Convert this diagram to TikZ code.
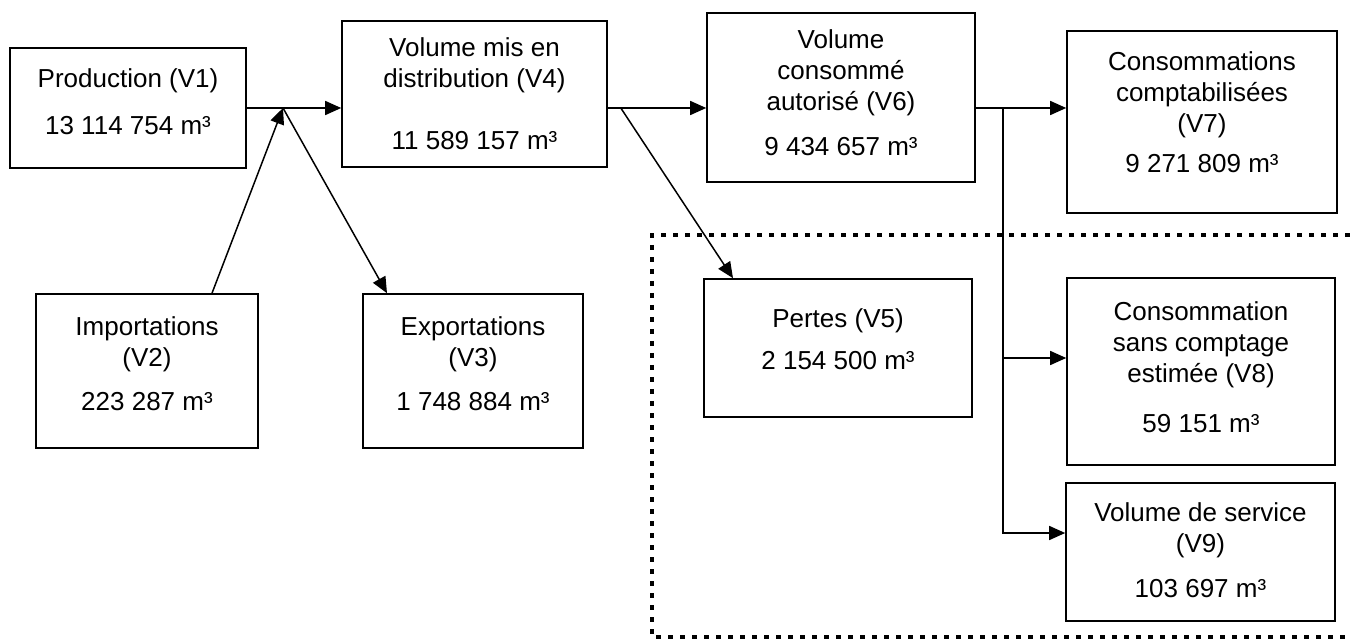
\documentclass[tikz,border=0pt]{standalone}
\usepackage{fontspec}
\setmainfont{Liberation Sans}
\usetikzlibrary{arrows.meta,calc}
\begin{document}
\begin{tikzpicture}[x=1pt,y=-1pt,
  box/.style={draw,line width=1.6pt,rectangle,inner sep=0pt},
  txt/.style={align=center,inner sep=0pt,font=\fontsize{26}{31}\selectfont},
  link/.style={line width=1.5pt},
  arr/.style={line width=1.5pt,-{Triangle[length=16pt,width=14pt]}},
  zone/.style={line width=4.5pt,dash pattern=on 5pt off 7pt}]
\useasboundingbox (0,0) rectangle (1350,644);
% boxes
\node[box,minimum width=236pt,minimum height=120pt] (v1) at (128,108) {};
\node[box,minimum width=265pt,minimum height=146pt] (v4) at (474.5,94) {};
\node[box,minimum width=268pt,minimum height=169pt] (v6) at (841,97.5) {};
\node[box,minimum width=270pt,minimum height=182pt] (v7) at (1202,122) {};
\node[box,minimum width=222pt,minimum height=154pt] (v2) at (147,371) {};
\node[box,minimum width=220pt,minimum height=154pt] (v3) at (473,371) {};
\node[box,minimum width=268pt,minimum height=138pt] (v5) at (838,348) {};
\node[box,minimum width=268pt,minimum height=187pt] (v8) at (1201,371.5) {};
\node[box,minimum width=269pt,minimum height=138pt] (v9) at (1200.5,552) {};
% texts
\node[txt] (t1) at (128,101.5) {Production (V1)\\[16pt]13 114 754 m³};
\node[txt] (t4) at (474.5,94) {Volume mis en\\distribution (V4)\\[31pt]11 589 157 m³};
\node[txt] (t6) at (841,92.5) {Volume\\consommé\\autorisé (V6)\\[14pt]9 434 657 m³};
\node[txt] (t7) at (1202,112.5) {Consommations\\comptabilisées\\(V7)\\[9pt]9 271 809 m³};
\node[txt] (t2) at (147,363.5) {Importations\\(V2)\\[13pt]223 287 m³};
\node[txt] (t3) at (473,363.5) {Exportations\\(V3)\\[13pt]1 748 884 m³};
\node[txt] (t5) at (838,339) {Pertes (V5)\\[11pt]2 154 500 m³};
\node[txt] (t8) at (1201,367) {Consommation\\sans comptage\\estimée (V8)\\[19pt]59 151 m³};
\node[txt] (t9) at (1200.5,550) {Volume de service\\(V9)\\[14pt]103 697 m³};
% dotted zone
\coordinate (zt) at (1350,235);
\coordinate (ztl) at (652,235);
\coordinate (zbl) at (652,637);
\coordinate (zb) at (1350,637);
\draw[zone] (zt) -- (ztl) -- (zbl) -- (zb);
% connectors
\coordinate (J) at (283,108);
\coordinate (B) at (1003,108);
\draw[link] (v1.east |- J) -- (J);
\draw[arr] (J) -- (v4.west |- J);
\draw[arr] ([xshift=65pt]v2.north) -- (J);
\draw[arr] (J) -- ([xshift=-86pt]v3.north);
\draw[arr] (v4.east |- J) -- (v6.west |- J);
\draw[arr] ([xshift=13pt]v4.east |- J) -- ([xshift=-105pt]v5.north);
\draw[arr] (v6.east |- B) -- (v7.west |- B);
\draw[arr] (B) |- ([yshift=13.5pt]v8.west);
\draw[arr] (B) |- ([yshift=19pt]v9.west);
\end{tikzpicture}
\end{document}
